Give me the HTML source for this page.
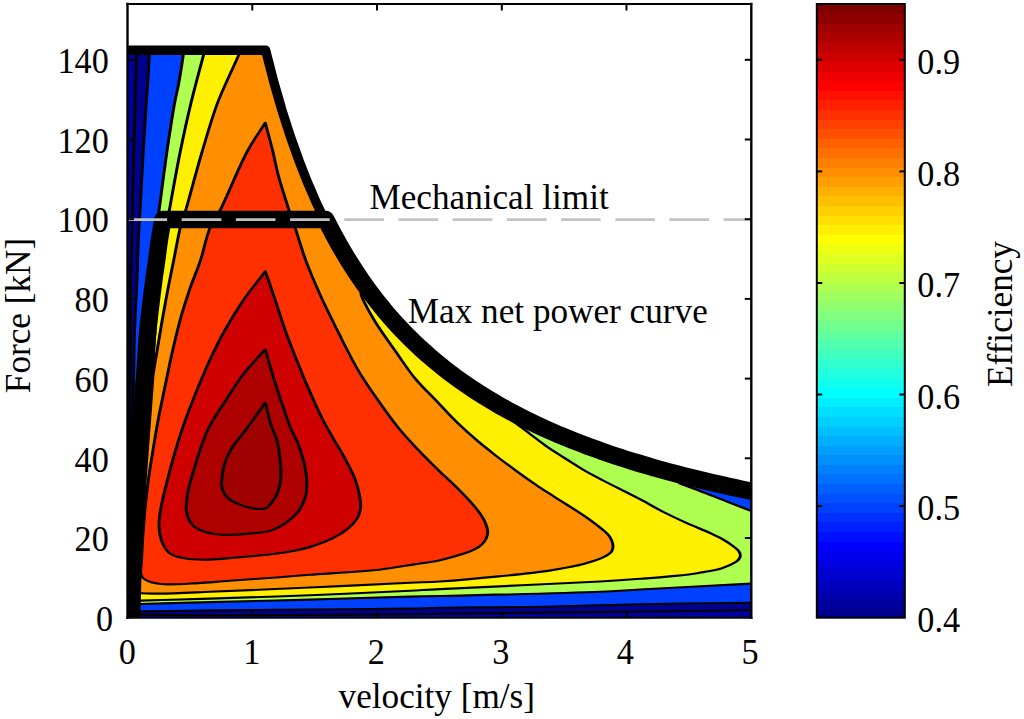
<!DOCTYPE html>
<html><head><meta charset="utf-8"><title>Efficiency map</title>
<style>html,body{margin:0;padding:0;background:#fff;}body{width:1024px;height:719px;position:relative;overflow:hidden;font-family:"Liberation Serif",serif;}</style>
</head><body>
<svg width="1024" height="719" viewBox="0 0 1024 719" style="position:absolute;left:0;top:0">
<defs><clipPath id="ax"><rect x="127.5" y="4.0" width="623.8" height="613.7"/></clipPath>
<clipPath id="fe" clip-path="url(#ax)"><path d="M122.5 622.7 L122.5 50.2 L265.6 50.2 L265.6 50.2 L275.5 88.4 L285.5 121.8 L295.5 151.2 L305.4 177.3 L315.4 200.7 L325.4 221.7 L335.3 240.7 L345.3 257.9 L355.2 273.7 L365.2 288.1 L375.2 301.3 L385.1 313.6 L395.1 324.9 L405.1 335.4 L415.0 345.2 L425.0 354.3 L435.0 362.9 L444.9 370.9 L454.9 378.4 L464.9 385.4 L474.8 392.1 L484.8 398.4 L494.7 404.3 L504.7 410.0 L514.7 415.3 L524.6 420.4 L534.6 425.2 L544.6 429.8 L554.5 434.2 L564.5 438.4 L574.5 442.4 L584.4 446.2 L594.4 449.9 L604.3 453.4 L614.3 456.7 L624.3 460.0 L634.2 463.1 L644.2 466.1 L654.2 468.9 L664.1 471.7 L674.1 474.4 L684.1 476.9 L694.0 479.4 L704.0 481.8 L714.0 484.1 L723.9 486.3 L733.9 488.5 L743.8 490.6 L753.8 492.6 L763.8 494.6 L761.3 622.7 Z"/></clipPath></defs>
<rect x="0" y="0" width="1024" height="719" fill="#fff"/>
<g clip-path="url(#fe)">
<rect x="100" y="0" width="700" height="640" fill="#00009F"/>
<g transform="scale(1.4,1)">
<path d="M97.6 48.0 C97.5 50.3 97.5 51.8 97.4 55.0 C97.3 61.7 96.9 77.3 96.7 86.0 C96.6 92.4 96.7 95.5 96.6 102.5 C96.4 114.6 95.7 133.1 95.4 152.0 C94.9 177.1 94.6 216.0 94.1 240.0 C93.9 256.6 93.5 267.5 93.3 282.0 C93.1 297.5 93.2 311.5 93.1 330.0 C93.0 355.3 92.7 386.7 92.6 420.0 C92.4 461.5 92.3 524.7 92.3 560.0 C92.3 581.5 92.3 594.7 92.4 612.0 L93.6 614.8 C95.8 614.7 97.1 614.6 100.4 614.6 C109.3 614.5 132.0 615.1 150.0 615.2 C171.6 615.3 197.6 615.0 221.4 614.8 C245.2 614.6 267.5 614.5 292.9 614.2 C321.8 613.8 356.8 613.0 385.7 612.6 C411.1 612.2 432.7 612.2 457.1 611.8 C482.9 611.4 522.6 610.3 536.4 610.0 C541.3 609.9 543.1 609.9 546.4 609.8 L546.4 -5.0 Z" fill="#00008F" stroke="#000" stroke-width="2.1" stroke-linejoin="round"/>
<path d="M106.7 48.0 C106.7 50.3 106.7 51.8 106.6 55.0 C106.4 61.7 105.8 77.3 105.4 86.0 C105.1 92.4 104.8 95.5 104.5 102.5 C103.9 114.6 103.0 134.3 102.3 152.0 C101.4 172.6 100.4 203.0 99.7 219.0 C99.3 228.0 99.1 231.8 98.8 240.0 C98.4 251.6 98.2 267.5 97.8 282.0 C97.3 297.5 96.5 314.5 96.1 330.0 C95.8 344.5 95.7 356.9 95.5 372.0 C95.2 389.8 94.9 406.8 94.6 430.0 C94.3 464.7 94.0 527.0 93.9 560.0 C93.9 580.2 93.9 592.7 93.9 609.0 L95.0 611.4 C96.8 611.4 97.7 611.4 100.4 611.4 C108.5 611.3 132.0 610.7 150.0 610.4 C171.6 610.0 197.6 609.8 221.4 609.5 C245.2 609.2 276.0 609.0 292.9 608.6 C302.1 608.4 305.1 608.0 314.3 607.8 C331.1 607.4 361.9 607.3 385.7 606.7 C409.5 606.1 432.7 604.8 457.1 604.2 C482.9 603.5 522.6 603.1 536.4 602.8 C541.3 602.7 543.1 602.7 546.4 602.6 L546.4 -5.0 Z" fill="#0040FF" stroke="#000" stroke-width="2.1" stroke-linejoin="round"/>
<path d="M131.6 48.0 C131.4 50.3 131.3 51.8 130.9 55.0 C130.2 61.7 128.5 77.3 127.3 86.0 C126.4 92.4 125.7 95.5 124.8 102.5 C123.2 114.6 121.0 134.8 119.2 152.0 C117.3 170.7 115.1 194.4 113.6 210.6 C112.5 222.1 111.6 228.9 110.7 240.0 C109.5 254.5 108.3 273.3 107.1 290.0 L95.7 600.0 L95.7 604.0 L100.4 604.0 C116.9 603.4 132.0 602.8 150.0 602.1 C171.6 601.3 197.6 600.5 221.4 599.6 C245.2 598.7 276.0 597.2 292.9 596.6 C302.1 596.3 304.3 596.3 314.3 596.0 C337.3 595.3 403.2 593.3 428.6 591.8 C441.3 591.1 445.2 590.4 457.1 589.5 C477.0 588.0 522.6 584.6 536.4 583.6 C541.3 583.2 543.1 583.1 546.4 582.9 L546.4 516.3 L536.4 510.8 C530.2 507.5 524.0 504.1 517.9 500.8 C511.8 497.5 505.6 494.0 500.0 491.0 C495.0 488.3 490.5 486.0 485.7 483.5 L474.3 470.5 L464.8 466.8 L455.3 462.9 L445.8 458.7 L436.3 454.4 L426.8 449.7 L417.3 444.9 L407.9 439.7 L398.4 434.2 L388.9 428.3 L379.4 422.1 L369.9 415.5 L360.4 408.3 L350.9 400.7 L341.5 392.5 L332.0 383.6 L322.5 374.0 L313.0 363.6 L303.5 352.3 L294.0 339.9 L284.5 326.2 L275.1 311.2 L265.6 294.5 L256.1 276.0 L246.6 255.1 L237.1 231.6 L227.6 204.8 L218.1 173.9 L208.7 138.1 L199.2 96.1 L189.7 45.9 L189.7 50.2 Z" fill="#AFFF50" stroke="#000" stroke-width="2.1" stroke-linejoin="round"/>
<path d="M146.9 48.0 C146.4 50.3 146.1 51.6 145.4 55.0 C143.7 63.8 139.3 86.5 136.5 102.5 C133.7 118.8 131.2 134.8 128.7 152.0 C126.0 170.7 122.7 196.8 120.9 210.6 C119.9 218.1 119.4 221.2 118.6 228.0 C117.4 237.5 115.7 250.7 114.3 262.0 L97.1 596.0 L97.1 600.6 L100.4 600.6 C116.9 599.9 132.0 599.4 150.0 598.6 C171.7 597.7 197.6 596.6 221.4 595.3 C245.2 594.0 276.0 592.0 292.9 590.8 C302.1 590.1 304.3 589.8 314.3 589.1 C337.3 587.4 403.2 583.5 428.6 581.5 C441.3 580.5 447.9 579.8 457.1 578.8 C465.8 577.9 474.8 577.0 482.3 575.9 C488.4 575.0 493.5 574.2 499.0 572.9 C504.6 571.6 511.0 570.3 515.7 568.2 C519.6 566.4 523.7 563.7 525.8 561.8 C526.9 560.7 527.5 559.9 528.0 558.8 C528.5 557.7 528.8 556.6 528.8 555.4 C528.8 554.0 528.3 552.4 527.6 551.0 C526.8 549.5 525.6 548.2 524.1 546.6 C522.0 544.3 518.6 541.2 515.7 538.9 C513.0 536.7 510.7 535.2 507.4 533.1 C502.8 530.1 496.2 526.6 490.6 523.1 C485.0 519.6 479.4 515.9 473.9 512.0 C468.2 508.0 463.4 503.8 457.1 499.2 C449.2 493.4 437.5 485.4 430.1 480.0 C424.9 476.2 421.2 473.5 416.9 470.0 C412.5 466.4 408.3 462.5 403.9 458.6 C399.4 454.5 394.8 450.6 390.0 445.9 C384.6 440.6 378.0 433.3 373.3 428.3 C369.8 424.6 367.3 421.8 364.3 418.5 L358.4 406.8 L352.8 402.2 L347.2 397.5 L341.5 392.6 L335.9 387.4 L330.3 382.0 L324.7 376.3 L319.0 370.3 L313.4 364.1 L307.8 357.5 L302.2 350.6 L296.5 343.3 L290.9 335.5 L285.3 327.4 L279.7 318.7 L274.1 309.5 L268.4 299.7 L262.8 289.3 L257.2 278.2 L251.6 266.3 L245.9 253.5 L240.3 239.8 L234.7 225.0 L229.1 209.0 L223.4 191.7 L217.8 172.8 L212.2 152.1 L206.6 129.4 L200.9 104.4 L195.3 76.7 L189.7 45.9 L189.7 50.2 Z" fill="#FFEF00" stroke="#000" stroke-width="2.1" stroke-linejoin="round"/>
<path d="M172.5 48.0 C171.8 50.3 171.5 51.6 170.5 55.0 C167.9 63.8 159.9 86.4 155.5 102.5 C151.1 118.7 148.0 134.8 144.3 152.0 C140.3 170.7 135.5 196.8 132.6 210.6 C131.0 218.1 129.9 221.3 128.7 228.0 C127.1 237.0 125.7 249.4 124.1 260.0 C122.7 270.4 121.1 280.5 119.7 290.8 C118.3 301.0 117.0 311.5 115.7 321.5 C114.5 331.1 113.4 340.7 112.3 349.9 C111.2 358.5 110.3 366.6 109.3 375.0 L97.9 588.0 L97.9 593.3 L100.4 593.3 C105.0 593.4 108.6 593.7 114.3 593.6 C123.4 593.5 136.1 592.6 150.0 591.8 C169.7 590.7 197.6 589.0 221.4 587.5 C245.2 586.0 276.0 583.9 292.9 582.8 C302.1 582.2 306.0 582.3 314.3 581.5 C325.9 580.4 342.7 578.3 356.1 576.4 C368.7 574.6 381.5 573.0 392.4 570.6 C401.6 568.6 410.3 566.5 417.5 563.8 C423.4 561.5 429.5 558.4 432.9 555.9 C434.8 554.4 436.0 553.2 436.9 551.5 C437.6 549.9 437.8 548.0 437.9 546.2 C437.9 544.2 437.4 542.0 436.8 540.0 C436.2 538.1 435.7 536.7 434.3 534.5 C431.6 530.4 425.7 524.3 420.3 518.8 C413.7 512.1 403.8 503.8 397.0 497.7 C391.8 492.9 387.6 489.4 383.0 485.0 C378.3 480.6 373.7 476.0 369.1 471.3 C364.4 466.5 359.7 461.6 355.1 456.6 C350.5 451.5 345.8 446.4 341.2 441.0 C336.5 435.4 331.9 429.7 327.2 423.4 C322.1 416.5 317.0 408.6 311.9 401.1 C306.7 393.6 301.3 386.5 296.6 378.6 C291.6 370.3 287.6 361.4 283.0 352.3 C278.1 342.6 272.3 331.5 268.1 322.0 C264.6 313.8 260.7 303.7 259.1 298.8 C258.4 296.6 257.9 295.6 257.9 294.0 C257.8 292.4 258.6 290.7 258.9 289.0 L255.9 275.6 L253.7 271.0 L251.5 266.2 L249.3 261.3 L247.1 256.3 L244.9 251.1 L242.7 245.7 L240.5 240.2 L238.3 234.6 L236.1 228.8 L233.9 222.7 L231.6 216.5 L229.4 210.1 L227.2 203.5 L225.0 196.7 L222.8 189.6 L220.6 182.3 L218.4 174.8 L216.2 167.0 L214.0 158.9 L211.8 150.5 L209.6 141.8 L207.4 132.7 L205.1 123.4 L202.9 113.6 L200.7 103.4 L198.5 92.9 L196.3 81.9 L194.1 70.4 L191.9 58.4 L189.7 45.9 L189.7 50.2 Z" fill="#FF8F00" stroke="#000" stroke-width="2.1" stroke-linejoin="round"/>
<path d="M189.5 122.8 C185.3 132.2 181.2 139.7 176.8 151.0 C170.5 167.1 162.3 196.7 157.1 210.6 C154.3 218.2 152.1 221.2 150.0 228.0 C147.2 236.9 145.7 249.7 143.3 260.0 C141.0 269.8 138.1 278.9 135.7 288.4 C133.4 297.8 131.3 306.9 129.3 316.8 C127.2 327.4 125.3 338.9 123.4 349.9 C121.6 360.9 120.0 372.2 118.4 383.0 C116.8 393.4 115.0 405.2 113.8 413.8 C112.9 420.1 112.6 423.1 111.7 430.0 C110.2 442.4 107.3 466.0 105.8 482.0 C104.5 495.6 103.6 507.2 102.9 520.0 C102.1 533.2 101.4 549.9 101.1 560.0 C100.9 566.1 100.0 571.6 100.7 574.8 C101.1 576.5 101.5 577.3 102.4 578.4 C103.7 579.9 105.8 581.3 108.0 582.3 C110.6 583.4 113.3 584.0 117.1 584.3 C123.3 584.8 133.6 583.7 141.5 583.1 C149.1 582.5 155.5 581.6 163.9 580.8 C174.5 579.7 189.5 578.3 200.0 577.2 C208.1 576.3 212.8 575.7 221.4 574.8 C234.7 573.4 258.6 571.7 272.1 569.5 C281.3 568.0 287.7 566.2 295.0 564.6 C301.7 563.1 308.2 562.1 314.3 560.2 C320.1 558.4 326.4 555.9 330.9 553.8 C334.3 552.2 337.0 550.8 339.3 549.1 C341.2 547.7 342.8 546.3 344.1 544.6 C345.5 542.8 346.5 540.7 347.2 538.6 C347.9 536.4 348.5 534.3 348.4 531.6 C348.3 528.0 346.9 523.3 345.4 519.1 C343.7 514.6 341.2 510.2 338.4 505.5 C335.2 500.2 331.2 494.5 327.2 488.9 C322.9 482.8 317.9 476.6 313.3 470.3 C308.6 463.9 303.9 457.5 299.4 450.8 C294.6 443.9 289.9 437.0 285.4 429.3 C280.4 420.8 275.6 411.4 270.9 402.0 C266.0 392.2 261.1 382.5 256.5 371.8 C251.5 360.2 247.0 347.3 242.5 334.7 C237.9 321.8 233.1 308.3 228.9 295.5 C225.0 283.4 221.4 271.6 218.3 260.0 C215.4 249.1 213.0 237.0 210.9 228.0 C209.3 221.4 208.2 217.7 206.6 211.0 C204.4 201.2 200.8 185.7 198.7 175.0 C197.1 166.5 196.4 160.1 195.0 152.0 C193.4 142.8 191.3 132.5 189.5 122.8 Z" fill="#FF3000" stroke="#000" stroke-width="2.1" stroke-linejoin="round"/>
<path d="M189.5 271.2 C184.3 280.9 178.6 290.3 173.8 300.2 C168.9 310.2 164.3 320.9 160.3 331.0 C156.5 340.6 153.4 349.5 150.1 359.4 C146.6 370.0 143.3 381.1 140.0 392.5 C136.5 404.6 133.1 416.4 129.9 430.0 C126.1 445.9 121.9 467.1 119.2 482.0 C117.2 493.1 115.4 503.0 114.5 511.2 C113.9 517.3 113.4 521.7 113.6 526.9 C113.9 532.1 114.4 537.9 115.9 542.5 C117.1 546.6 118.6 550.7 121.4 553.4 C124.2 556.1 128.5 557.5 132.6 558.6 C137.0 559.8 142.1 559.7 147.1 559.7 C152.5 559.6 158.4 558.7 163.9 558.1 C168.9 557.6 173.7 557.0 178.6 556.4 C183.5 555.8 188.5 555.2 193.5 554.3 C198.5 553.4 203.4 552.5 208.4 551.2 C213.4 549.8 218.4 548.4 223.3 546.2 C228.4 544.0 233.8 541.0 238.2 537.9 C242.2 535.1 245.7 531.9 248.6 528.5 C251.4 525.3 253.8 521.7 255.3 518.1 C256.7 514.7 257.3 511.3 257.6 507.6 C257.9 503.6 257.4 499.6 256.8 495.1 C256.1 489.7 254.8 483.5 253.1 477.4 C251.2 470.7 248.2 463.1 245.6 456.5 C243.2 450.3 240.7 444.8 238.2 438.8 C235.7 432.6 233.3 427.0 230.7 420.0 C227.5 411.2 223.9 400.0 220.8 390.1 C217.8 380.5 215.1 371.4 212.4 361.7 C209.5 351.7 206.6 341.6 203.9 331.0 C201.0 319.6 198.1 306.2 195.5 295.5 C193.4 286.6 191.5 279.3 189.5 271.2 Z" fill="#CF0000" stroke="#000" stroke-width="2.1" stroke-linejoin="round"/>
<path d="M189.5 349.4 C184.4 357.5 178.8 365.2 174.1 373.6 C169.5 382.0 165.8 390.6 161.6 399.6 C157.2 409.3 152.3 418.3 148.4 430.0 C143.5 444.8 138.3 470.2 135.9 482.0 C134.7 488.0 134.2 490.9 133.7 495.6 C133.2 500.6 132.6 506.5 133.1 511.2 C133.6 515.3 134.4 519.1 135.9 522.2 C137.3 525.0 139.0 527.3 141.5 529.2 C144.4 531.4 148.9 533.0 152.7 533.9 C156.3 534.8 159.9 534.7 163.9 534.7 C168.4 534.7 173.7 534.3 178.6 533.6 C183.6 532.9 189.1 532.5 193.5 530.6 C197.5 528.9 200.8 526.3 203.9 523.3 C207.3 520.1 210.5 516.1 212.9 511.8 C215.3 507.4 217.0 502.3 218.1 497.2 C219.2 491.9 219.2 486.2 219.1 480.5 C219.0 474.4 218.1 468.1 217.0 461.7 C215.8 454.9 213.8 446.7 212.1 440.9 C210.8 436.6 209.5 434.0 208.2 430.0 C206.7 425.2 205.5 420.3 203.9 413.8 C201.5 404.3 198.0 389.5 195.5 378.3 C193.3 368.2 191.5 359.0 189.5 349.4 Z" fill="#AF0000" stroke="#000" stroke-width="2.1" stroke-linejoin="round"/>
<path d="M189.5 402.7 C184.8 411.8 179.8 421.9 175.5 430.0 C171.9 436.7 168.1 442.0 165.5 448.1 C163.1 453.7 161.3 459.3 160.1 465.0 C159.0 470.6 158.4 477.5 158.3 482.0 C158.2 485.0 158.2 486.9 158.8 489.4 C159.5 492.2 160.8 495.6 162.7 498.0 C164.7 500.5 167.8 502.5 170.5 504.2 C173.1 505.8 176.0 507.0 178.6 507.8 C180.8 508.5 183.1 508.9 185.0 509.0 C186.5 509.1 187.7 509.4 189.0 508.7 C190.8 507.8 192.7 505.0 194.2 502.4 C196.1 499.3 197.6 495.0 198.7 490.9 C199.9 486.4 200.4 481.2 200.6 476.3 C200.9 471.4 200.6 467.0 200.2 461.7 C199.8 455.4 199.1 447.3 197.9 440.9 C196.9 435.2 195.0 430.8 193.6 425.0 C192.1 418.2 190.9 410.1 189.5 402.7 Z" fill="#9F0000" stroke="#000" stroke-width="2.1" stroke-linejoin="round"/>
</g>
</g>
<g clip-path="url(#ax)" fill="none" stroke="#000" stroke-linejoin="round" stroke-linecap="butt">
<path d="M122.5 50.2 L265.6 50.2 L265.6 50.2 L273.9 82.4 L282.2 111.1 L290.5 136.9 L298.8 160.2 L307.1 181.4 L315.4 200.7 L323.7 218.3 L332.0 234.5 L340.3 249.5 L348.6 263.3 L356.9 276.1 L365.2 288.1 L373.5 299.2 L381.8 309.6 L390.1 319.3 L398.4 328.5 L406.7 337.1 L415.0 345.2 L423.3 352.8 L431.6 360.1 L439.9 366.9 L448.2 373.4 L456.5 379.6 L464.9 385.4 L473.2 391.0 L481.5 396.3 L489.8 401.4 L498.1 406.3 L506.4 410.9 L514.7 415.3 L523.0 419.6 L531.3 423.6 L539.6 427.6 L547.9 431.3 L556.2 434.9 L564.5 438.4 L572.8 441.7 L581.1 445.0 L589.4 448.1 L597.7 451.1 L606.0 454.0 L614.3 456.7 L622.6 459.4 L630.9 462.1 L639.2 464.6 L647.5 467.0 L655.8 469.4 L664.1 471.7 L672.4 473.9 L680.7 476.1 L689.0 478.2 L697.3 480.2 L705.7 482.2 L714.0 484.1 L722.3 486.0 L730.6 487.8 L738.9 489.5 L747.2 491.3 L755.5 492.9 L763.8 494.6" stroke-width="9.4"/>
<path d="M131.4 625.0 C131.5 622.6 131.5 620.9 131.6 617.7 C131.8 611.7 132.0 602.2 132.3 592.0 C132.7 576.9 133.2 554.5 134.0 536.0 C134.8 517.8 135.9 500.2 137.0 482.0 C138.1 463.5 139.4 444.5 140.7 426.0 C142.0 407.8 143.7 388.9 145.0 372.0 C146.1 357.1 146.5 344.4 147.9 330.0 C149.4 314.5 152.0 294.5 153.6 282.0 C154.6 273.9 155.5 268.8 156.4 262.0 C157.4 254.8 158.3 247.2 159.4 240.0 C160.5 233.0 161.7 226.3 162.9 219.4 L325.7 219.4 L325.7 219.4 L333.0 233.5 L340.3 246.7 L347.6 259.0 L354.9 270.5 L362.2 281.3 L369.5 291.5 L376.8 301.0 L384.1 310.1 L391.4 318.6 L398.7 326.6 L406.0 334.2 L413.3 341.5 L420.6 348.4 L427.9 354.9 L435.2 361.1 L442.5 367.1 L449.8 372.8 L457.1 378.2 L464.4 383.4 L471.7 388.4 L479.0 393.1 L486.3 397.7 L493.6 402.1 L500.9 406.3 L508.2 410.3 L515.5 414.2 L522.8 418.0 L530.1 421.6 L537.4 425.1 L544.7 428.5 L552.0 431.7 L559.3 434.9 L566.7 437.9 L574.0 440.9 L581.3 443.7 L588.6 446.5 L595.9 449.1 L603.2 451.7 L610.5 454.2 L617.8 456.7 L625.1 459.0 L632.4 461.3 L639.7 463.5 L647.0 465.7 L654.3 467.8 L661.6 469.9 L668.9 471.9 L676.2 473.8 L683.5 475.7 L690.8 477.5 L698.1 479.3 L705.4 481.1 L712.7 482.8 L720.0 484.4 L727.3 486.1 L734.6 487.6 L741.9 489.2 L749.2 490.7 L756.5 492.2 L763.8 493.6" stroke-width="17.5"/>
</g>
<line x1="127.5" y1="219.6" x2="751.3" y2="219.6" stroke="#c2c2c2" stroke-width="2.6" stroke-dasharray="39.6 14.6"/>
<g stroke="#000" stroke-width="2" fill="none" stroke-linecap="square">
<path d="M127.5 4.0H751.3M127.5 617.7H751.3" stroke-width="2"/>
<path d="M127.5 4.0V617.7M751.3 4.0V617.7" stroke-width="2.4"/>
</g><g stroke="#000" stroke-width="2" fill="none">
<line x1="252.3" y1="617.7" x2="252.3" y2="611.2"/>
<line x1="252.3" y1="4.0" x2="252.3" y2="10.5"/>
<line x1="377.0" y1="617.7" x2="377.0" y2="611.2"/>
<line x1="377.0" y1="4.0" x2="377.0" y2="10.5"/>
<line x1="501.8" y1="617.7" x2="501.8" y2="611.2"/>
<line x1="501.8" y1="4.0" x2="501.8" y2="10.5"/>
<line x1="626.5" y1="617.7" x2="626.5" y2="611.2"/>
<line x1="626.5" y1="4.0" x2="626.5" y2="10.5"/>
<line x1="127.5" y1="538.0" x2="134.0" y2="538.0"/>
<line x1="751.3" y1="538.0" x2="744.8" y2="538.0"/>
<line x1="127.5" y1="458.3" x2="134.0" y2="458.3"/>
<line x1="751.3" y1="458.3" x2="744.8" y2="458.3"/>
<line x1="127.5" y1="378.6" x2="134.0" y2="378.6"/>
<line x1="751.3" y1="378.6" x2="744.8" y2="378.6"/>
<line x1="127.5" y1="298.9" x2="134.0" y2="298.9"/>
<line x1="751.3" y1="298.9" x2="744.8" y2="298.9"/>
<line x1="127.5" y1="219.2" x2="134.0" y2="219.2"/>
<line x1="751.3" y1="219.2" x2="744.8" y2="219.2"/>
<line x1="127.5" y1="139.5" x2="134.0" y2="139.5"/>
<line x1="751.3" y1="139.5" x2="744.8" y2="139.5"/>
<line x1="127.5" y1="59.8" x2="134.0" y2="59.8"/>
<line x1="751.3" y1="59.8" x2="744.8" y2="59.8"/>
</g>
<rect x="816.8" y="608.11" width="88.0" height="10.19" fill="rgb(0,0,143)" shape-rendering="crispEdges"/>
<rect x="816.8" y="598.52" width="88.0" height="10.19" fill="rgb(0,0,159)" shape-rendering="crispEdges"/>
<rect x="816.8" y="588.93" width="88.0" height="10.19" fill="rgb(0,0,175)" shape-rendering="crispEdges"/>
<rect x="816.8" y="579.34" width="88.0" height="10.19" fill="rgb(0,0,191)" shape-rendering="crispEdges"/>
<rect x="816.8" y="569.75" width="88.0" height="10.19" fill="rgb(0,0,207)" shape-rendering="crispEdges"/>
<rect x="816.8" y="560.17" width="88.0" height="10.19" fill="rgb(0,0,223)" shape-rendering="crispEdges"/>
<rect x="816.8" y="550.58" width="88.0" height="10.19" fill="rgb(0,0,239)" shape-rendering="crispEdges"/>
<rect x="816.8" y="540.99" width="88.0" height="10.19" fill="rgb(0,0,255)" shape-rendering="crispEdges"/>
<rect x="816.8" y="531.40" width="88.0" height="10.19" fill="rgb(0,16,255)" shape-rendering="crispEdges"/>
<rect x="816.8" y="521.81" width="88.0" height="10.19" fill="rgb(0,32,255)" shape-rendering="crispEdges"/>
<rect x="816.8" y="512.22" width="88.0" height="10.19" fill="rgb(0,48,255)" shape-rendering="crispEdges"/>
<rect x="816.8" y="502.63" width="88.0" height="10.19" fill="rgb(0,64,255)" shape-rendering="crispEdges"/>
<rect x="816.8" y="493.04" width="88.0" height="10.19" fill="rgb(0,80,255)" shape-rendering="crispEdges"/>
<rect x="816.8" y="483.45" width="88.0" height="10.19" fill="rgb(0,96,255)" shape-rendering="crispEdges"/>
<rect x="816.8" y="473.86" width="88.0" height="10.19" fill="rgb(0,112,255)" shape-rendering="crispEdges"/>
<rect x="816.8" y="464.28" width="88.0" height="10.19" fill="rgb(0,128,255)" shape-rendering="crispEdges"/>
<rect x="816.8" y="454.69" width="88.0" height="10.19" fill="rgb(0,143,255)" shape-rendering="crispEdges"/>
<rect x="816.8" y="445.10" width="88.0" height="10.19" fill="rgb(0,159,255)" shape-rendering="crispEdges"/>
<rect x="816.8" y="435.51" width="88.0" height="10.19" fill="rgb(0,175,255)" shape-rendering="crispEdges"/>
<rect x="816.8" y="425.92" width="88.0" height="10.19" fill="rgb(0,191,255)" shape-rendering="crispEdges"/>
<rect x="816.8" y="416.33" width="88.0" height="10.19" fill="rgb(0,207,255)" shape-rendering="crispEdges"/>
<rect x="816.8" y="406.74" width="88.0" height="10.19" fill="rgb(0,223,255)" shape-rendering="crispEdges"/>
<rect x="816.8" y="397.15" width="88.0" height="10.19" fill="rgb(0,239,255)" shape-rendering="crispEdges"/>
<rect x="816.8" y="387.56" width="88.0" height="10.19" fill="rgb(0,255,255)" shape-rendering="crispEdges"/>
<rect x="816.8" y="377.97" width="88.0" height="10.19" fill="rgb(16,255,239)" shape-rendering="crispEdges"/>
<rect x="816.8" y="368.38" width="88.0" height="10.19" fill="rgb(32,255,223)" shape-rendering="crispEdges"/>
<rect x="816.8" y="358.80" width="88.0" height="10.19" fill="rgb(48,255,207)" shape-rendering="crispEdges"/>
<rect x="816.8" y="349.21" width="88.0" height="10.19" fill="rgb(64,255,191)" shape-rendering="crispEdges"/>
<rect x="816.8" y="339.62" width="88.0" height="10.19" fill="rgb(80,255,175)" shape-rendering="crispEdges"/>
<rect x="816.8" y="330.03" width="88.0" height="10.19" fill="rgb(96,255,159)" shape-rendering="crispEdges"/>
<rect x="816.8" y="320.44" width="88.0" height="10.19" fill="rgb(112,255,143)" shape-rendering="crispEdges"/>
<rect x="816.8" y="310.85" width="88.0" height="10.19" fill="rgb(128,255,128)" shape-rendering="crispEdges"/>
<rect x="816.8" y="301.26" width="88.0" height="10.19" fill="rgb(143,255,112)" shape-rendering="crispEdges"/>
<rect x="816.8" y="291.67" width="88.0" height="10.19" fill="rgb(159,255,96)" shape-rendering="crispEdges"/>
<rect x="816.8" y="282.08" width="88.0" height="10.19" fill="rgb(175,255,80)" shape-rendering="crispEdges"/>
<rect x="816.8" y="272.49" width="88.0" height="10.19" fill="rgb(191,255,64)" shape-rendering="crispEdges"/>
<rect x="816.8" y="262.90" width="88.0" height="10.19" fill="rgb(207,255,48)" shape-rendering="crispEdges"/>
<rect x="816.8" y="253.32" width="88.0" height="10.19" fill="rgb(223,255,32)" shape-rendering="crispEdges"/>
<rect x="816.8" y="243.73" width="88.0" height="10.19" fill="rgb(239,255,16)" shape-rendering="crispEdges"/>
<rect x="816.8" y="234.14" width="88.0" height="10.19" fill="rgb(255,255,0)" shape-rendering="crispEdges"/>
<rect x="816.8" y="224.55" width="88.0" height="10.19" fill="rgb(255,239,0)" shape-rendering="crispEdges"/>
<rect x="816.8" y="214.96" width="88.0" height="10.19" fill="rgb(255,223,0)" shape-rendering="crispEdges"/>
<rect x="816.8" y="205.37" width="88.0" height="10.19" fill="rgb(255,207,0)" shape-rendering="crispEdges"/>
<rect x="816.8" y="195.78" width="88.0" height="10.19" fill="rgb(255,191,0)" shape-rendering="crispEdges"/>
<rect x="816.8" y="186.19" width="88.0" height="10.19" fill="rgb(255,175,0)" shape-rendering="crispEdges"/>
<rect x="816.8" y="176.60" width="88.0" height="10.19" fill="rgb(255,159,0)" shape-rendering="crispEdges"/>
<rect x="816.8" y="167.01" width="88.0" height="10.19" fill="rgb(255,143,0)" shape-rendering="crispEdges"/>
<rect x="816.8" y="157.43" width="88.0" height="10.19" fill="rgb(255,128,0)" shape-rendering="crispEdges"/>
<rect x="816.8" y="147.84" width="88.0" height="10.19" fill="rgb(255,112,0)" shape-rendering="crispEdges"/>
<rect x="816.8" y="138.25" width="88.0" height="10.19" fill="rgb(255,96,0)" shape-rendering="crispEdges"/>
<rect x="816.8" y="128.66" width="88.0" height="10.19" fill="rgb(255,80,0)" shape-rendering="crispEdges"/>
<rect x="816.8" y="119.07" width="88.0" height="10.19" fill="rgb(255,64,0)" shape-rendering="crispEdges"/>
<rect x="816.8" y="109.48" width="88.0" height="10.19" fill="rgb(255,48,0)" shape-rendering="crispEdges"/>
<rect x="816.8" y="99.89" width="88.0" height="10.19" fill="rgb(255,32,0)" shape-rendering="crispEdges"/>
<rect x="816.8" y="90.30" width="88.0" height="10.19" fill="rgb(255,16,0)" shape-rendering="crispEdges"/>
<rect x="816.8" y="80.71" width="88.0" height="10.19" fill="rgb(255,0,0)" shape-rendering="crispEdges"/>
<rect x="816.8" y="71.12" width="88.0" height="10.19" fill="rgb(239,0,0)" shape-rendering="crispEdges"/>
<rect x="816.8" y="61.53" width="88.0" height="10.19" fill="rgb(223,0,0)" shape-rendering="crispEdges"/>
<rect x="816.8" y="51.95" width="88.0" height="10.19" fill="rgb(207,0,0)" shape-rendering="crispEdges"/>
<rect x="816.8" y="42.36" width="88.0" height="10.19" fill="rgb(191,0,0)" shape-rendering="crispEdges"/>
<rect x="816.8" y="32.77" width="88.0" height="10.19" fill="rgb(175,0,0)" shape-rendering="crispEdges"/>
<rect x="816.8" y="23.18" width="88.0" height="10.19" fill="rgb(159,0,0)" shape-rendering="crispEdges"/>
<rect x="816.8" y="13.59" width="88.0" height="10.19" fill="rgb(143,0,0)" shape-rendering="crispEdges"/>
<rect x="816.8" y="4.00" width="88.0" height="10.19" fill="rgb(128,0,0)" shape-rendering="crispEdges"/>
<g stroke="#000" stroke-width="2" fill="none">
<rect x="816.8" y="4.0" width="88.0" height="613.7"/>
<line x1="816.8" y1="506.1" x2="822.3" y2="506.1"/>
<line x1="904.8" y1="506.1" x2="899.3" y2="506.1"/>
<line x1="816.8" y1="394.5" x2="822.3" y2="394.5"/>
<line x1="904.8" y1="394.5" x2="899.3" y2="394.5"/>
<line x1="816.8" y1="283.0" x2="822.3" y2="283.0"/>
<line x1="904.8" y1="283.0" x2="899.3" y2="283.0"/>
<line x1="816.8" y1="171.4" x2="822.3" y2="171.4"/>
<line x1="904.8" y1="171.4" x2="899.3" y2="171.4"/>
<line x1="816.8" y1="59.8" x2="822.3" y2="59.8"/>
<line x1="904.8" y1="59.8" x2="899.3" y2="59.8"/>
</g>
<g font-family="'Liberation Serif', serif" font-size="35.2" fill="#000">
<text transform="translate(113.0,630.9) scale(0.940,1)" font-size="36.4" text-anchor="end">0</text>
<text transform="translate(108.8,551.2) scale(0.940,1)" font-size="36.4" text-anchor="end">20</text>
<text transform="translate(108.8,471.5) scale(0.940,1)" font-size="36.4" text-anchor="end">40</text>
<text transform="translate(108.8,391.8) scale(0.940,1)" font-size="36.4" text-anchor="end">60</text>
<text transform="translate(108.8,312.1) scale(0.940,1)" font-size="36.4" text-anchor="end">80</text>
<text transform="translate(108.8,232.4) scale(0.940,1)" font-size="36.4" text-anchor="end">100</text>
<text transform="translate(108.8,152.7) scale(0.940,1)" font-size="36.4" text-anchor="end">120</text>
<text transform="translate(108.8,73.0) scale(0.940,1)" font-size="36.4" text-anchor="end">140</text>
<text transform="translate(127.2,663.7) scale(0.940,1)" font-size="36.4" text-anchor="middle">0</text>
<text transform="translate(251.8,663.7) scale(0.940,1)" font-size="36.4" text-anchor="middle">1</text>
<text transform="translate(376.3,663.7) scale(0.940,1)" font-size="36.4" text-anchor="middle">2</text>
<text transform="translate(500.8,663.7) scale(0.940,1)" font-size="36.4" text-anchor="middle">3</text>
<text transform="translate(625.4,663.7) scale(0.940,1)" font-size="36.4" text-anchor="middle">4</text>
<text transform="translate(750.0,663.7) scale(0.940,1)" font-size="36.4" text-anchor="middle">5</text>
<text x="436.8" y="707.6" text-anchor="middle">velocity [m/s]</text>
<text transform="translate(29.8,315.5) rotate(-90)" text-anchor="middle">Force [kN]</text>
<text transform="translate(917.3,631.9) scale(0.940,1)" font-size="36.4" text-anchor="start">0.4</text>
<text transform="translate(917.3,520.3) scale(0.940,1)" font-size="36.4" text-anchor="start">0.5</text>
<text transform="translate(917.3,408.7) scale(0.940,1)" font-size="36.4" text-anchor="start">0.6</text>
<text transform="translate(917.3,297.2) scale(0.940,1)" font-size="36.4" text-anchor="start">0.7</text>
<text transform="translate(917.3,185.6) scale(0.940,1)" font-size="36.4" text-anchor="start">0.8</text>
<text transform="translate(917.3,74.0) scale(0.940,1)" font-size="36.4" text-anchor="start">0.9</text>
<text transform="translate(1011.8,314) rotate(-90)" text-anchor="middle">Efficiency</text>
<text x="369.4" y="209">Mechanical limit</text>
<text x="407.8" y="323.2">Max net power curve</text>
</g>
</svg>
</body></html>
